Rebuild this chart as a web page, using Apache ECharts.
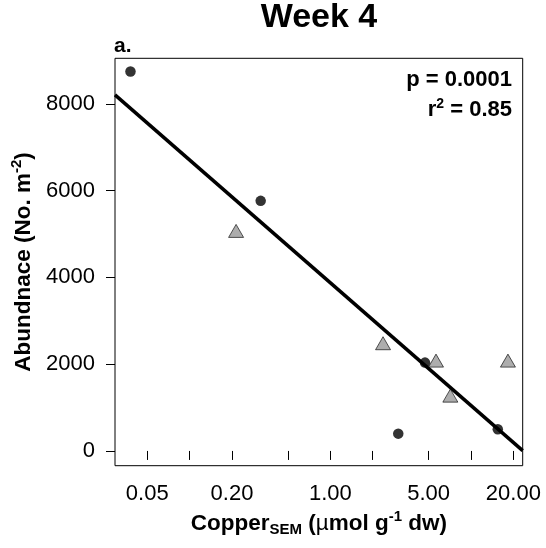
<!DOCTYPE html>
<html>
<head>
<meta charset="utf-8">
<script src="https://cdn.jsdelivr.net/npm/echarts@6/dist/echarts.min.js"></script>
<style>html,body{margin:0;padding:0;background:#fff}#c{width:546px;height:548px}</style>
</head>
<body>
<div id="c"></div>
<script>
// Circles (black)
var circleX = [0.038, 0.32, 3.04, 4.71, 15.5];
var circleY = [8745, 5764, 399, 2036, 500];
// Triangles (grey)
var triX = [0.214, 2.37, 5.64, 7.13, 18.3];
var triY = [5072, 2483, 2082, 1275, 2082];
// Regression line endpoints (log-linear fit)
var fitX = [0.0295, 23.3];
var fitY = [8207, 7];
// Tick labels
var xLabelValues = [0.05, 0.2, 1, 5, 20];
var xTickValues = [0.05, 0.1, 0.2, 0.5, 1, 2, 5, 10, 20];
var yTickValues = [0, 2000, 4000, 6000, 8000];

function zip(a, b) { return a.map(function (v, i) { return [v, b[i]]; }); }

var chart = echarts.init(document.getElementById('c'), null, { renderer: 'canvas' });
var FONT = 'Liberation Sans, Arial, Helvetica, sans-serif';
chart.setOption({
  animation: false,
  textStyle: { fontFamily: FONT },
  grid: { left: 115, right: 23.3, top: 58.3, bottom: 82.3, show: true, borderColor: '#000', borderWidth: 1, backgroundColor: 'transparent' },
  xAxis: {
    type: 'log', logBase: 10, min: 0.0295, max: 23.3,
    axisLine: { show: false },
    splitLine: { show: false },
    minorTick: { show: false },
    axisTick: { show: true, length: 9, lineStyle: { color: '#000', width: 1 }, customValues: xTickValues },
    axisLabel: { customValues: xLabelValues, margin: 17, color: '#000', fontSize: 22, fontFamily: FONT,
      formatter: function (v) { return Number(v).toFixed(2); } },
    name: '{b|Copper}{s|SEM}{b| (}{m|µ}{b|mol g}{sup|-1}{b| dw)}',
    nameLocation: 'middle', nameGap: 44,
    nameTextStyle: {
      rich: {
        b: { fontSize: 22.5, fontWeight: 'bold', color: '#000', fontFamily: FONT, lineHeight: 28, verticalAlign: 'middle' },
        m: { fontSize: 22.5, fontWeight: 'normal', color: '#000', fontFamily: FONT, lineHeight: 28, verticalAlign: 'middle' },
        s: { fontSize: 15, fontWeight: 'bold', color: '#000', fontFamily: FONT, lineHeight: 20, verticalAlign: 'bottom' },
        sup: { fontSize: 15, fontWeight: 'bold', color: '#000', fontFamily: FONT, lineHeight: 16, verticalAlign: 'top' }
      }
    }
  },
  yAxis: {
    type: 'value', min: -340, max: 9050,
    axisLine: { show: false },
    splitLine: { show: false },
    axisTick: { show: true, length: 9, lineStyle: { color: '#000', width: 1 }, customValues: yTickValues },
    axisLabel: { customValues: yTickValues, margin: 20, color: '#000', fontSize: 22, fontFamily: FONT,
      formatter: function (v) { return String(v); } },
    name: '{b|Abundnace (No. m}{sup|-2}{b|)}',
    nameLocation: 'middle', nameGap: 72,
    nameTextStyle: {
      rich: {
        b: { fontSize: 22.5, fontWeight: 'bold', color: '#000', fontFamily: FONT, lineHeight: 28, verticalAlign: 'middle' },
        sup: { fontSize: 15, fontWeight: 'bold', color: '#000', fontFamily: FONT, lineHeight: 16, verticalAlign: 'top' }
      }
    }
  },
  series: [
    { type: 'line', data: zip(fitX, fitY), showSymbol: false, symbol: 'none', lineStyle: { color: '#000', width: 3.5 }, z: 2 },
    { type: 'scatter', data: zip(circleX, circleY), symbol: 'circle', symbolSize: 10.5, itemStyle: { color: '#000' }, z: 3 },
    { type: 'scatter', data: zip(triX, triY), symbol: 'triangle', symbolSize: [15, 13], itemStyle: { color: '#999', borderColor: '#000', borderWidth: 0.8 }, z: 4 }
  ],
  graphic: [
    { type: 'text', x: 319, y: 18, style: { text: 'Week 4', fontSize: 34, fontWeight: 'bold', fontFamily: FONT, fill: '#000', align: 'center', verticalAlign: 'middle' } },
    { type: 'text', x: 114, y: 46, style: { text: 'a.', fontSize: 21, fontWeight: 'bold', fontFamily: FONT, fill: '#000', align: 'left', verticalAlign: 'middle' } },
    { type: 'text', x: 512, y: 80, style: { text: 'p = 0.0001', fontSize: 22, fontWeight: 'bold', fontFamily: FONT, fill: '#000', align: 'right', verticalAlign: 'middle' } },
    { type: 'text', x: 512, y: 110, style: {
        text: '{b|r}{sup|2}{b| = 0.85}', align: 'right', verticalAlign: 'middle',
        rich: {
          b: { fontSize: 22, fontWeight: 'bold', fontFamily: FONT, fill: '#000', color: '#000', lineHeight: 26, verticalAlign: 'middle' },
          sup: { fontSize: 14, fontWeight: 'bold', fontFamily: FONT, fill: '#000', color: '#000', lineHeight: 16, verticalAlign: 'top' }
        } } }
  ]
});
</script>
</body>
</html>
